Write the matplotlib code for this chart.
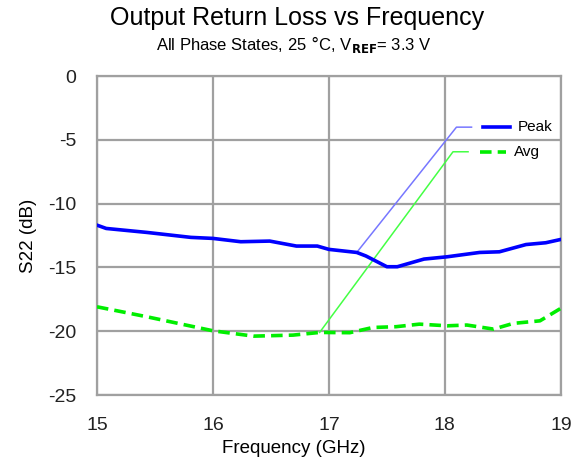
import matplotlib
matplotlib.use('Agg')
import matplotlib.pyplot as plt

plt.rcParams['font.family'] = ['Liberation Sans', 'DejaVu Sans']
plt.rcParams['axes.unicode_minus'] = False

# data
freq_peak = [15.0, 15.08, 15.43, 15.81, 16.0, 16.24, 16.49, 16.72, 16.9, 17.0,
             17.24, 17.32, 17.5, 17.59, 17.82, 18.02, 18.3, 18.47, 18.7, 18.87, 19.0]
s22_peak = [-11.68, -11.94, -12.25, -12.64, -12.72, -12.98, -12.93, -13.32, -13.32, -13.58,
            -13.82, -14.1, -14.94, -14.94, -14.34, -14.16, -13.82, -13.77, -13.2, -13.06, -12.8]

freq_avg = [15.0, 15.43, 16.0, 16.35, 16.69, 16.92, 17.18, 17.38, 17.58, 17.78,
            18.02, 18.19, 18.42, 18.59, 18.82, 19.0]
s22_avg = [-18.08, -18.86, -19.96, -20.38, -20.3, -20.09, -20.11, -19.7, -19.64, -19.44,
           -19.57, -19.51, -19.83, -19.38, -19.18, -18.2]

xticks = [15, 16, 17, 18, 19]
yticks = [0, -5, -10, -15, -20, -25]

fig = plt.figure(figsize=(5.77, 4.67), dpi=100)
ax = fig.add_axes([0.168, 0.154, 0.804, 0.683])

dash = (0, (3.2, 1.7))
ax.plot(freq_peak, s22_peak, color='#0000ff', lw=2.6, label='Peak', zorder=3)
ax.plot(freq_avg, s22_avg, color='#00ee00', lw=2.6, ls=dash, label='Avg', zorder=3)

# callout labels with leader lines
callouts = [
    ('Peak', 10, (18.1, -4.0), '#7777ff', '#0000ff', '-'),
    ('Avg', 5, (18.07, -5.93), '#44ff44', '#00ee00', dash),
]
for name, idx, (lx, ly), lead_c, line_c, ls in callouts:
    xs = freq_peak if name == 'Peak' else freq_avg
    ys = s22_peak if name == 'Peak' else s22_avg
    ax.plot([xs[idx], lx, lx + 0.13], [ys[idx], ly, ly], color=lead_c, lw=1.1, zorder=2)
    ax.plot([lx + 0.23, lx + 0.46], [ly, ly], color=line_c, lw=2.6, ls=ls, zorder=3)
    ax.text(lx + 0.53, ly, name, fontsize=11, va='center', ha='left')

ax.set_xlim(15, 19)
ax.set_ylim(-25, 0)
ax.set_xticks(xticks)
ax.set_yticks(yticks)
ax.tick_params(labelsize=14, length=0, colors='#222222')
ax.tick_params(axis='y', pad=15)
ax.tick_params(axis='x', pad=16)
ax.grid(True, color='#a0a0a0', lw=1.6)
ax.set_axisbelow(True)
for sp in ax.spines.values():
    sp.set_color('#a0a0a0')
    sp.set_linewidth(1.6)

ax.set_xlabel('Frequency (GHz)', fontsize=13.5)
ax.set_ylabel('S22 (dB)', fontsize=13.5)
ax.xaxis.set_label_coords(0.425, -0.14)
ax.yaxis.set_label_coords(-0.13, 0.5)

fig.text(0.514, 0.962, 'Output Return Loss vs Frequency', fontsize=18, ha='center', va='center')
fig.text(0.509, 0.905, r'All Phase States, 25 $\degree$C, V$_{\mathbf{REF}}$= 3.3 V',
         fontsize=12, ha='center', va='center')

fig.savefig('out.png', dpi=100)
